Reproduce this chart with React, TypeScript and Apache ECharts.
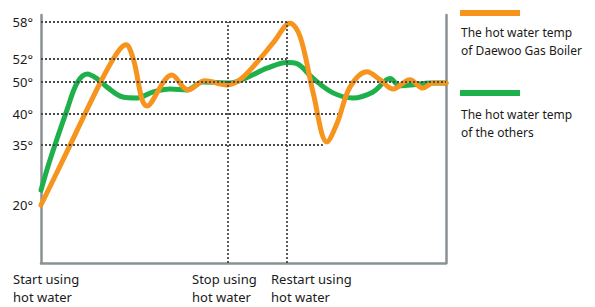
import React, { useEffect, useRef } from "react";
import * as echarts from "echarts";

// Y axis is schematic (non-linear): each labelled temperature sits at a fixed axis position
const TEMP_TICKS = [20, 35, 40, 50, 52, 58];
const TICK_AXIS_POS = [58, 118, 149, 181, 204, 241];
const AXIS_MAX = 248;

// time (0..100) and temperature readings
const daewooX = [0, 5.4, 14.6, 18.8, 21.0, 22.7, 26.2, 32.3, 36.3, 40.5, 45.9, 49.1, 53.3, 57.3, 61.5, 64.0, 67.2, 70.6, 73.1, 76.3, 80.5, 83.7, 86.9, 91.1, 94.3, 96.8, 100];
const daewooT = [20, 31.2, 49.7, 53.0, 54.3, 52.2, 42.5, 50.6, 47.5, 50.1, 49.1, 50.2, 51.7, 54.6, 57.8, 55.6, 46.6, 35.5, 38.5, 48.4, 50.9, 50.2, 47.8, 50.2, 48.1, 49.7, 49.7];

const othersX = [0, 2.2, 6.4, 8.9, 11.4, 13.8, 16.3, 20.2, 23.7, 27.7, 31.9, 36.0, 40.0, 46.7, 50.9, 55.8, 60.7, 63.2, 67.2, 72.1, 77.0, 82.0, 86.2, 88.6, 91.9, 96.0, 100];
const othersT = [23.7, 31.2, 41.2, 49.7, 50.7, 50.3, 48.4, 45.3, 45.0, 46.9, 47.8, 47.5, 50.0, 49.7, 50.4, 51.2, 51.7, 51.6, 50.3, 46.6, 45.0, 46.9, 50.3, 48.8, 49.1, 49.7, 49.7];

// dotted reference lines: temperature and where each ends along time
const GRID_TEMPS = [58, 52, 50, 40, 35];
const GRID_END_X = [60.7, 60.7, 100, 73.3, 69.6];

// events
const EVENT_X = [46.2, 60.7];
const EVENT_LABELS = ["Start using\nhot water", "Stop using\nhot water", "Restart using\nhot water"];

const LEGEND_LABELS = ["The hot water temp\nof Daewoo Gas Boiler", "The hot water temp\nof the others"];

const ORANGE = "#F7941E";
const GREEN = "#1DB04B";
const AXIS_COLOR = "#8a9194";
const TEXT = "#1a1a1a";

function toAxis(t: number): number {
  const n = TEMP_TICKS.length;
  if (t <= TEMP_TICKS[0]) {
    const s = (TICK_AXIS_POS[1] - TICK_AXIS_POS[0]) / (TEMP_TICKS[1] - TEMP_TICKS[0]);
    return TICK_AXIS_POS[0] + (t - TEMP_TICKS[0]) * s;
  }
  for (let i = 0; i < n - 1; i++) {
    if (t <= TEMP_TICKS[i + 1]) {
      const f = (t - TEMP_TICKS[i]) / (TEMP_TICKS[i + 1] - TEMP_TICKS[i]);
      return TICK_AXIS_POS[i] + f * (TICK_AXIS_POS[i + 1] - TICK_AXIS_POS[i]);
    }
  }
  const s = (TICK_AXIS_POS[n - 1] - TICK_AXIS_POS[n - 2]) / (TEMP_TICKS[n - 1] - TEMP_TICKS[n - 2]);
  return TICK_AXIS_POS[n - 1] + (t - TEMP_TICKS[n - 1]) * s;
}

export default function App() {
  const ref = useRef<HTMLDivElement>(null);
  useEffect(() => {
    if (!ref.current) return;
    document.body.style.margin = "0";
    const chart = echarts.init(ref.current, undefined, { renderer: "svg" });
    const font = "'Noto Sans', sans-serif";
    const dotted = { color: "#4a4a4a", width: 1.8, type: [2, 2] as any };

    const gridLines = GRID_TEMPS.map((t, i) => [
      { coord: [0, toAxis(t)] },
      { coord: [GRID_END_X[i], toAxis(t)] },
    ]);
    const eventLines = EVENT_X.map((x) => [
      { coord: [x, 0] },
      { coord: [x, toAxis(TEMP_TICKS[TEMP_TICKS.length - 1])] },
    ]);

    const labelLeft = [13, 192, 271];

    chart.setOption({
      animation: false,
      grid: { left: 41, right: 149, top: 15, bottom: 44 },
      xAxis: {
        type: "value",
        min: 0,
        max: 100,
        axisLine: { show: true, lineStyle: { color: AXIS_COLOR, width: 2.5 } },
        axisTick: { show: false },
        axisLabel: { show: false },
        splitLine: { show: false },
      },
      yAxis: [
        {
          type: "value",
          min: 0,
          max: AXIS_MAX,
          axisLine: { show: true, lineStyle: { color: AXIS_COLOR, width: 2.5 } },
          axisTick: { show: false },
          splitLine: { show: false },
          axisLabel: {
            customValues: TICK_AXIS_POS,
            margin: 8,
            color: TEXT,
            fontFamily: font,
            fontSize: 13,
            formatter: (v: number) => {
              const i = TICK_AXIS_POS.indexOf(v);
              return i >= 0 ? TEMP_TICKS[i] + "°" : "";
            },
          },
        },
        {
          type: "value",
          position: "right",
          min: 0,
          max: AXIS_MAX,
          axisLine: { show: true, lineStyle: { color: AXIS_COLOR, width: 2.5 } },
          axisTick: { show: false },
          axisLabel: { show: false },
          splitLine: { show: false },
        },
      ],
      series: [
        {
          type: "line",
          data: [],
          z: 1,
          markLine: {
            silent: true,
            symbol: "none",
            label: { show: false },
            lineStyle: dotted,
            data: [...gridLines, ...eventLines],
          },
        },
        {
          name: "others",
          type: "line",
          z: 3,
          smooth: 0.35,
          showSymbol: false,
          lineStyle: { color: GREEN, width: 5, cap: "round", join: "round" },
          data: othersX.map((x, i) => [x, toAxis(othersT[i])]),
        },
        {
          name: "daewoo",
          type: "line",
          z: 4,
          smooth: 0.35,
          showSymbol: false,
          lineStyle: { color: ORANGE, width: 5, cap: "round", join: "round" },
          data: daewooX.map((x, i) => [x, toAxis(daewooT[i])]),
        },
      ],
      graphic: [
        ...EVENT_LABELS.map((t, i) => ({
          type: "text",
          left: labelLeft[i],
          top: 270,
          style: { text: t, fill: TEXT, font: `13px ${font}`, lineHeight: 18 },
        })),
        { type: "rect", shape: { x: 460, y: 10, width: 60, height: 6 }, style: { fill: ORANGE } },
        {
          type: "text",
          left: 461,
          top: 23,
          style: { text: LEGEND_LABELS[0], fill: TEXT, font: `12px ${font}`, lineHeight: 18 },
        },
        { type: "rect", shape: { x: 460, y: 90, width: 60, height: 6 }, style: { fill: GREEN } },
        {
          type: "text",
          left: 461,
          top: 105,
          style: { text: LEGEND_LABELS[1], fill: TEXT, font: `12px ${font}`, lineHeight: 18 },
        },
      ],
    });
    return () => chart.dispose();
  }, []);
  return <div ref={ref} style={{ width: 595, height: 307 }} />;
}
